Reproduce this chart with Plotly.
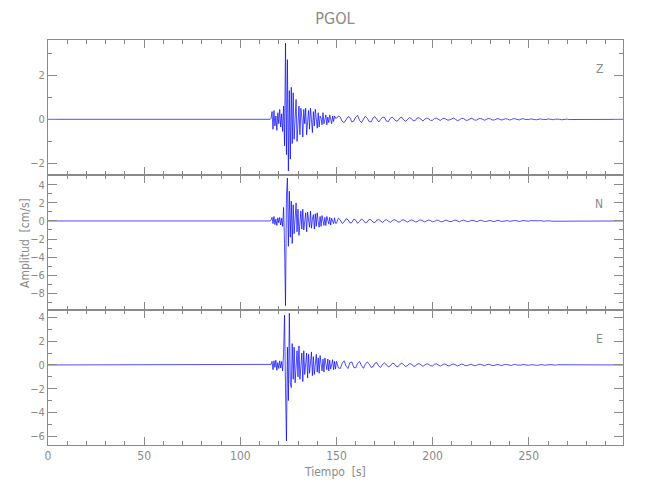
import numpy as np
import plotly.graph_objects as go
from plotly.subplots import make_subplots

station = "PGOL"
components = ["Z", "N", "E"]

# quiet pre-event record
pre_time = [0.0, 115.5]
pre_vals = [0.0, 0.0]

# sampling of the event window (s)
dense_start, dense_step, dense_n = 116.0, 0.5, 68
tail_start, tail_step, tail_n = 150.0, 1.0, 150

z_dense = [0.05, 0.35, -0.45, 0.4, -0.3, 0.15, -0.5, 0.3, -0.2, 0.45,
           -0.35, 0.25, -0.55, 0.6, -1.2, 3.45, -1.6, 2.7, -2.34, 1.3,
           -1.8, 1.45, -1.1, 1.2, -0.9, 0.3, 0.9, -1.0, -0.3, 0.6,
           -0.7, 0.5, 0.1, -0.8, 0.45, -0.2, 0.5, -0.7, -0.1, 0.4,
           -0.45, 0.5, 0.0, -0.6, 0.35, -0.3, 0.45, 0.1, -0.4, 0.3,
           -0.35, 0.15, 0.05, -0.25, 0.3, -0.2, 0.1, 0.2, -0.25, 0.1,
           -0.15, 0.2, 0.0, -0.2, 0.15, -0.1, 0.15, 0.05]
z_tail = [0.05, 0.15, 0.1, -0.1, -0.15, 0.0, 0.12, 0.08, -0.12, -0.08,
          0.1, 0.18, -0.05, -0.15, 0.02, 0.14, 0.05, -0.1, -0.12, 0.06,
          0.12, -0.02, -0.12, 0.0, 0.1, 0.08, -0.08, -0.1, 0.05, 0.1,
          0.0, -0.08, -0.06, 0.07, 0.09, -0.03, -0.09, 0.02, 0.08, 0.03,
          -0.07, -0.05, 0.06, 0.07, -0.02, -0.07, 0.01, 0.06, 0.02, -0.05,
          -0.04, 0.04, 0.05, -0.02, -0.05, 0.02, 0.05, 0.0, -0.04, -0.02,
          0.04, 0.06, -0.01, -0.06, -0.02, 0.04, 0.04, -0.03, -0.05, 0.01,
          0.05, 0.02, -0.04, -0.03, 0.03, 0.04, -0.01, -0.04, 0.0, 0.04,
          0.02, -0.03, -0.03, 0.02, 0.04, -0.01, -0.03, 0.0, 0.03, 0.01,
          -0.03, -0.01, 0.03, 0.02, -0.02, -0.03, 0.01, 0.03, 0.0, -0.02,
          -0.01, 0.02, 0.02, -0.01, -0.02, 0.01, 0.02, 0.0, -0.02, -0.01,
          0.02, 0.01, -0.01, -0.02, 0.01, 0.02, 0.0, -0.02, 0.0, 0.02,
          0.01, -0.01, -0.01, 0.01, 0.02, 0.0, -0.01, -0.01, 0.01, 0.01,
          0.0, -0.01, 0.0, 0.01, 0.01, -0.01, -0.01, 0.0, 0.01, 0.0,
          -0.01, 0.0, 0.01, 0.0, -0.01, 0.0, 0.01, 0.0, 0.0, 0.0]

n_dense = [0.1, 0.4, -0.3, 0.5, -0.4, 0.2, -0.5, 0.35, -0.2, 0.4,
           -0.45, 0.3, -0.6, 1.5, -2.5, -9.38, 2.8, 4.76, -2.8, 3.3,
           -1.8, 2.2, -2.5, 1.8, -1.4, 0.5, 2.0, -1.2, 1.3, -1.6,
           0.2, 1.1, -0.9, 1.3, -1.0, -0.2, 0.9, -1.2, 1.0, 0.1,
           -0.7, 1.1, -0.8, 0.2, 0.7, -0.9, 0.8, -0.6, 0.9, -0.1,
           -0.7, 0.5, -0.6, 0.6, 0.1, -0.5, 0.4, -0.5, 0.5, -0.1,
           -0.35, 0.4, -0.45, 0.3, 0.0, -0.3, 0.35, -0.25]
n_tail = [-0.25, 0.3, 0.1, -0.28, -0.1, 0.25, 0.15, -0.22, -0.18, 0.2,
          0.1, -0.25, -0.05, 0.22, 0.08, -0.2, -0.12, 0.18, 0.12, -0.12,
          -0.18, 0.1, 0.16, -0.05, -0.17, 0.06, 0.14, -0.03, -0.15, 0.03,
          0.15, 0.06, -0.12, -0.1, 0.1, 0.12, -0.05, -0.13, 0.02, 0.12,
          0.05, -0.1, -0.08, 0.09, 0.1, -0.04, -0.11, 0.03, 0.1, 0.03,
          -0.1, -0.04, 0.09, 0.07, -0.06, -0.09, 0.03, 0.1, 0.0, -0.08,
          -0.05, 0.07, 0.08, -0.03, -0.09, 0.02, 0.09, 0.03, -0.07, -0.05,
          0.06, 0.07, -0.03, -0.08, 0.01, 0.08, 0.02, -0.06, -0.04, 0.05,
          0.06, -0.03, -0.07, 0.01, 0.07, 0.01, -0.06, -0.02, 0.05, 0.04,
          -0.04, -0.05, 0.02, 0.06, 0.0, -0.05, -0.02, 0.05, 0.03, -0.04,
          -0.03, 0.04, 0.03, -0.03, -0.04, 0.02, 0.04, -0.01, -0.04, 0.01,
          0.04, 0.01, -0.03, -0.03, 0.02, 0.04, 0.0, -0.03, -0.02, 0.03,
          0.03, -0.02, -0.03, 0.01, 0.03, 0.01, -0.02, -0.02, 0.02, 0.02,
          -0.01, -0.02, 0.01, 0.02, 0.0, -0.02, -0.01, 0.02, 0.01, -0.01,
          -0.02, 0.01, 0.02, 0.0, -0.02, 0.0, 0.02, 0.0, -0.01, 0.0]

e_dense = [0.05, 0.3, -0.4, 0.35, -0.2, 0.4, -0.45, 0.2, -0.3, 0.35,
           -0.25, 0.3, -0.5, 1.0, 4.19, -2.0, -6.4, 1.5, -3.0, 4.36,
           -1.5, -1.9, 1.8, -1.2, 1.5, -1.5, 0.3, 1.2, -1.0, 1.6,
           -1.2, 0.2, 1.0, -1.4, 1.2, -0.8, -0.1, 1.0, -1.1, 0.9,
           -0.7, 0.3, 1.1, -0.9, 0.7, -0.8, 0.0, 0.9, -0.6, 0.6,
           -0.7, 0.8, 0.1, -0.5, 0.5, -0.6, 0.6, -0.1, -0.4, 0.5,
           -0.5, 0.4, -0.35, 0.0, 0.45, -0.4, 0.3, -0.35]
e_tail = [0.3, -0.25, -0.3, 0.15, 0.35, -0.1, -0.3, 0.2, 0.25, -0.2,
          -0.25, 0.15, 0.3, -0.05, -0.28, 0.05, 0.25, 0.1, -0.2, -0.15,
          0.15, 0.2, -0.1, -0.2, 0.05, 0.18, 0.02, -0.16, -0.08, 0.14,
          0.12, -0.1, -0.15, 0.06, 0.15, 0.0, -0.13, -0.05, 0.12, 0.08,
          -0.1, -0.1, 0.07, 0.12, -0.03, -0.11, 0.0, 0.1, 0.05, -0.08,
          -0.08, 0.06, 0.1, -0.02, -0.1, 0.0, 0.09, 0.04, -0.07, -0.06,
          0.05, 0.08, -0.02, -0.08, -0.01, 0.07, 0.04, -0.06, -0.05, 0.04,
          0.07, -0.01, -0.07, -0.02, 0.06, 0.05, -0.04, -0.06, 0.02, 0.06,
          0.02, -0.05, -0.04, 0.04, 0.05, -0.02, -0.05, 0.01, 0.05, 0.02,
          -0.04, -0.04, 0.03, 0.05, -0.01, -0.04, -0.01, 0.04, 0.02, -0.03,
          -0.03, 0.02, 0.04, 0.0, -0.03, -0.02, 0.03, 0.03, -0.02, -0.03,
          0.01, 0.03, 0.0, -0.03, -0.01, 0.02, 0.02, -0.01, -0.02, 0.01,
          0.02, 0.0, -0.02, -0.01, 0.02, 0.01, -0.01, -0.02, 0.01, 0.02,
          0.0, -0.01, -0.01, 0.01, 0.01, 0.0, -0.01, 0.0, 0.01, 0.0,
          -0.01, 0.0, 0.01, 0.0, -0.01, 0.0, 0.01, 0.0, 0.0, 0.0]

y_ranges = [[-2.52, 3.59], [-9.86, 5.09], [-6.74, 4.63]]
x_range = [0, 299]
x_ticks = [0, 50, 100, 150, 200, 250]

dense_t = list(dense_start + dense_step * np.arange(dense_n))
tail_t = list(tail_start + tail_step * np.arange(tail_n))
time = pre_time + dense_t + tail_t
traces = [pre_vals + z_dense + z_tail,
          pre_vals + n_dense + n_tail,
          pre_vals + e_dense + e_tail]

GRAY = "#8a8a8a"
FONT = "DejaVu Sans Condensed, Liberation Sans Narrow, Roboto, sans-serif"

fig = make_subplots(rows=3, cols=1, shared_xaxes=True, vertical_spacing=0)
for i, vals in enumerate(traces):
    fig.add_trace(go.Scatter(x=time, y=vals, mode="lines",
                             line=dict(color="#0000ff", width=0.7),
                             showlegend=False), row=i + 1, col=1)

domains = [[2 / 3, 1.0], [1 / 3, 2 / 3], [0.0, 1 / 3]]
for i in range(3):
    xa = "xaxis" if i == 0 else f"xaxis{i + 1}"
    ya = "yaxis" if i == 0 else f"yaxis{i + 1}"
    fig.layout[xa].update(
        range=x_range, tickvals=x_ticks, ticks="inside", ticklen=8,
        tickcolor=GRAY, linecolor=GRAY, linewidth=1, showline=True,
        mirror="ticks", showgrid=False, zeroline=False, automargin=False,
        showticklabels=(i == 2),
        tickfont=dict(family=FONT, size=12, color=GRAY),
        minor=dict(dtick=10, tick0=0, ticks="inside", ticklen=4,
                   tickcolor=GRAY, showgrid=False),
    )
    fig.layout[ya].update(
        domain=domains[i], range=y_ranges[i], dtick=2, tick0=0,
        ticks="inside", ticklen=9, tickcolor=GRAY, linecolor=GRAY,
        linewidth=1, showline=True, mirror="ticks", showgrid=False,
        zeroline=False, automargin=False,
        tickfont=dict(family=FONT, size=11, color=GRAY),
        minor=dict(dtick=1, tick0=0, ticks="inside", ticklen=4,
                   tickcolor=GRAY, showgrid=False),
    )
    fig.add_annotation(text=components[i], xref=("x domain" if i == 0 else f"x{i + 1} domain"),
                       yref=("y domain" if i == 0 else f"y{i + 1} domain"),
                       x=0.969, y=0.85, showarrow=False,
                       font=dict(family=FONT, size=12, color=GRAY))

fig.add_annotation(text="Amplitud  [cm/s]", xref="paper", yref="paper",
                   x=-0.041, y=0.50, textangle=-90, showarrow=False,
                   xanchor="center", yanchor="middle",
                   font=dict(family=FONT, size=12, color=GRAY))
fig.add_annotation(text="Tiempo  [s]", xref="paper", yref="paper",
                   x=0.499, y=-0.066, showarrow=False,
                   xanchor="center", yanchor="middle",
                   font=dict(family=FONT, size=12, color=GRAY))

fig.update_layout(
    width=650, height=500,
    margin=dict(l=40, r=35, t=32, b=63),
    paper_bgcolor="white", plot_bgcolor="white",
    title=dict(text=station, x=0.503, xanchor="center", y=0.98,
               yanchor="middle",
               font=dict(family=FONT, size=16, color=GRAY)),
)

fig.write_html("out.html")
